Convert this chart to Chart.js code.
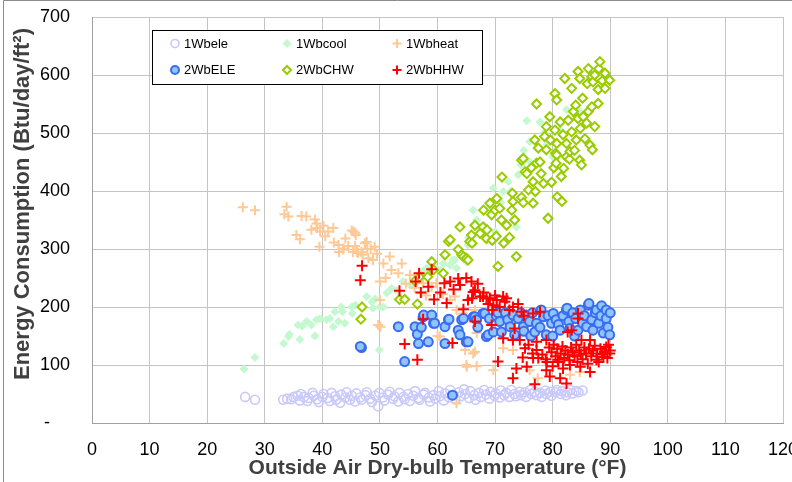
<!DOCTYPE html>
<html>
<head>
<meta charset="utf-8">
<script src="https://cdn.jsdelivr.net/npm/chart.js@4.4.1/dist/chart.umd.min.js"></script>
<style>
  html, body { margin: 0; padding: 0; background: #ffffff; }
  #wrap { width: 792px; height: 482px; position: relative; }
</style>
</head>
<body>
<div id="wrap"><canvas id="c" width="792" height="482"></canvas></div>
<script>
// Axis ticks
const xTicks = [0, 10, 20, 30, 40, 50, 60, 70, 80, 90, 100, 110, 120];
const yTicks = [0, 100, 200, 300, 400, 500, 600, 700];

// Series names
const seriesNames = ['1Wbele', '1Wbcool', '1Wbheat', '2WbELE', '2WbCHW', '2WbHHW'];

// [outside air dry-bulb °F, energy Btu/day/ft²]
const wb1Ele = [
  [26.6,45],[28.3,40],[33.2,40],[33.9,42],[34.6,41],[35.0,45],[35.7,47],[36.1,39],[36.3,50],[36.8,45],
  [37.4,38],[37.6,43],[38.3,52],[38.5,47],[39.1,41],[39.4,36],[40.0,45],[40.2,50],[40.9,43],[41.3,38],
  [41.6,52],[42.2,46],[42.4,40],[43.1,35],[43.3,49],[44.0,44],[44.2,53],[44.8,40],[45.1,47],[45.7,37],
  [45.9,51],[46.6,44],[46.8,40],[47.5,48],[47.7,53],[48.3,42],[48.6,36],[49.2,47],[49.7,29],[49.9,52],
  [50.5,44],[50.8,39],[51.4,49],[51.7,54],[52.3,42],[52.5,46],[53.2,37],[53.4,52],[54.1,45],[54.3,41],
  [54.9,50],[55.2,38],[55.8,47],[56.1,55],[56.7,43],[56.9,40],[57.6,49],[57.8,52],[58.5,44],[58.7,37],
  [59.3,48],[59.6,42],[60.2,55],[60.4,46],[61.1,39],[61.3,51],[62.0,44],[62.2,57],[62.8,48],[63.1,41],
  [63.7,53],[64.0,46],[64.6,58],[64.8,50],[65.5,43],[65.7,55],[66.4,48],[66.6,40],[67.2,52],[67.5,45],
  [68.1,57],[68.4,49],[69.0,42],[69.2,54],[69.9,47],[70.1,51],[70.8,44],[71.0,56],[71.6,48],[71.9,52],
  [72.5,45],[72.8,57],[73.4,50],[73.6,46],[74.3,54],[74.5,48],[75.2,53],[75.4,45],[76.1,57],[76.3,50],
  [76.9,54],[77.2,48],[77.8,52],[78.1,45],[78.7,56],[78.9,50],[79.6,54],[79.8,47],[80.5,53],[80.7,57],
  [81.4,50],[81.6,55],[82.3,48],[82.5,53],[83.1,57],[83.4,51],[84.1,55],[84.5,53],[85.2,56]
];

const wb1Cool = [
  [26.4,93],[28.3,113],[33.3,137],[34.1,149],[34.3,153],[35.8,169],[36.1,144],[36.5,167],[37.3,175],[38.1,169],
  [38.7,150],[39.0,178],[39.6,180],[40.7,178],[41.3,180],[41.9,166],[42.2,192],[42.8,175],[43.3,200],[43.5,192],
  [43.9,172],[45.1,200],[45.2,189],[45.7,203],[47.7,218],[48.6,209],[48.8,198],[49.2,214],[49.9,126],[50.0,200],
  [50.6,200],[51.2,224],[52.0,232],[52.9,229],[54.0,244],[55.2,238],[56.4,247],[56.9,255],[57.5,262],[58.1,267],
  [58.7,259],[59.5,270],[60.4,264],[61.0,275],[62.2,272],[62.7,281],[63.0,281],[63.3,267],[64.2,287],[65.0,278],
  [65.3,307],[65.4,320],[66.2,367],[66.8,350],[67.4,333],[68.2,340],[69.0,372],[69.7,405],[70.0,330],[71.0,380],
  [71.4,399],[72.3,416],[72.8,400],[73.7,338],[74.0,428],[74.5,445],[75.0,470],[75.5,521],[76.0,485],[76.1,450],
  [77.8,519],[78.5,500],[79.0,480],[80.0,459],[80.7,457],[81.3,505],[81.8,439],[82.4,540],[84.7,537]
];

const wb1Heat = [
  [26.2,372],[28.3,367],[33.4,360],[33.8,373],[34.1,356],[35.5,324],[36.1,317],[36.4,357],[37.2,356],[38.1,333],
  [38.7,351],[39.0,344],[39.1,336],[39.5,304],[39.6,330],[40.2,340],[40.5,322],[41.0,330],[41.9,336],[42.0,311],
  [42.8,307],[42.9,295],[43.6,299],[43.7,301],[44.0,318],[44.5,305],[45.1,332],[45.3,295],[45.4,330],[45.7,328],
  [45.8,324],[45.7,305],[46.0,295],[46.2,293],[46.8,295],[47.0,290],[47.4,310],[47.7,312],[47.8,300],[48.0,284],
  [48.4,300],[48.8,281],[49.1,304],[49.5,292],[49.7,169],[50.0,244],[50.0,212],[50.1,166],[50.6,275],[51.0,250],
  [51.7,287],[52.0,264],[53.2,258],[53.8,275],[54.5,240],[55.2,255],[56.0,233],[57.2,224],[57.5,241],[58.0,220],
  [59.0,235],[59.8,241],[60.0,150],[60.4,149],[61.0,222],[62.2,212],[63.0,218],[63.3,195],[63.3,34],[64.4,189],
  [64.8,126],[65.0,100],[65.1,97],[66.2,120],[66.5,123],[66.5,195],[66.8,98],[66.8,155],[69.7,91],[71.4,129],
  [73.1,126],[76.0,91],[77.4,77],[83.0,83],[84.7,88]
];

const wb2Ele = [
  [46.8,130],[46.6,132],[53.2,166],[54.3,106],[56.1,166],[56.5,153],[56.7,137],[57.2,165],[57.5,183],[57.6,186],
  [59.0,186],[59.3,172],[59.5,172],[58.4,140],[61.3,166],[61.3,137],[61.9,178],[62.0,179],[62.6,48],[63.6,160],
  [63.9,152],[64.2,178],[64.5,180],[65.0,140],[65.3,140],[66.2,183],[66.5,183],[66.8,178],[67.0,165],[67.9,189],
  [68.2,189],[68.5,149],[68.8,152],[69.0,180],[69.7,157],[70.2,185],[70.5,190],[70.8,175],[71.1,157],[71.8,190],
  [72.2,178],[72.6,166],[73.1,186],[73.4,152],[74.0,180],[74.5,190],[74.9,166],[75.0,158],[75.5,186],[76.0,175],
  [76.2,150],[76.5,190],[76.9,157],[77.2,172],[77.8,165],[78.0,195],[78.4,183],[78.9,152],[79.2,185],[79.8,172],
  [80.0,150],[80.1,189],[80.6,178],[81.0,170],[81.3,160],[81.8,185],[82.4,195],[82.5,198],[82.8,175],[83.0,163],
  [83.5,190],[83.8,150],[84.0,180],[84.4,160],[84.8,195],[85.2,172],[85.5,185],[85.9,166],[86.2,203],[86.3,206],
  [86.8,178],[87.0,160],[87.4,190],[87.6,195],[88.0,172],[88.4,185],[88.5,202],[88.8,155],[89.3,195],[89.3,180],
  [89.6,165],[89.9,152],[90.0,190]
];

const wb2Chw = [
  [46.9,200],[46.7,179],[53.4,213],[54.3,213],[56.5,205],[56.1,245],[56.9,252],[58.3,252],[59.0,278],[59.3,264],
  [61.0,258],[61.3,290],[61.9,313],[62.2,316],[63.6,299],[63.9,338],[64.2,290],[64.5,287],[65.0,284],[65.3,281],
  [65.6,313],[65.9,324],[66.0,310],[66.5,341],[67.4,327],[67.9,338],[68.0,367],[68.5,318],[68.6,333],[69.1,379],
  [69.4,359],[69.5,315],[70.0,367],[70.2,322],[70.3,387],[70.5,270],[70.8,370],[71.1,350],[71.2,424],[71.5,310],
  [72.0,341],[72.5,320],[72.9,367],[73.0,396],[73.1,382],[73.4,350],[73.7,287],[74.6,389],[74.6,453],[74.9,380],
  [74.9,456],[75.2,433],[75.5,430],[75.8,402],[76.3,440],[76.6,416],[76.6,379],[76.9,488],[77.0,399],[77.2,550],
  [77.2,448],[77.5,474],[77.8,450],[78.0,430],[78.4,413],[78.6,494],[78.9,511],[78.9,471],[79.2,353],[79.5,528],
  [79.6,488],[79.8,415],[80.2,440],[80.4,505],[80.4,568],[80.5,465],[80.7,557],[80.7,462],[80.8,390],[80.7,482],
  [80.6,448],[81.3,519],[81.5,425],[81.6,382],[81.8,497],[81.9,439],[82.1,594],[82.4,482],[82.4,459],[82.7,522],
  [82.9,455],[83.0,468],[83.3,577],[83.3,502],[83.6,537],[83.8,470],[84.0,548],[84.1,488],[84.4,606],[84.4,525],
  [84.7,594],[84.8,508],[84.7,453],[85.0,445],[85.2,560],[85.3,528],[85.6,490],[85.9,517],[86.0,585],[86.2,611],
  [86.2,537],[86.5,479],[86.8,597],[86.8,545],[86.9,471],[87.0,588],[87.3,600],[87.3,511],[87.9,575],[87.9,551],
  [88.0,611],[88.2,623],[88.6,590],[89.1,603],[89.1,577],[89.9,591]
];

const wb2Hhw = [
  [46.9,271],[46.6,246],[53.4,228],[54.3,136],[56.2,244],[56.5,109],[56.8,258],[57.1,225],[57.5,179],[58.4,235],
  [59.0,265],[59.4,213],[60.5,225],[61.2,241],[61.6,207],[62.2,244],[62.6,138],[62.8,230],[63.6,249],[63.9,238],
  [64.5,196],[65.0,250],[65.3,212],[65.9,244],[66.0,215],[66.2,226],[66.5,229],[66.5,175],[67.0,240],[67.4,218],
  [67.9,218],[68.0,225],[68.5,215],[68.8,205],[69.1,215],[69.4,169],[69.5,195],[69.7,203],[70.0,220],[70.3,212],
  [70.5,106],[70.8,200],[71.4,218],[71.4,146],[71.7,209],[72.0,215],[72.5,195],[73.1,200],[73.1,143],[73.1,77],
  [73.4,163],[73.7,94],[74.0,205],[74.3,143],[74.6,192],[74.8,113],[75.0,185],[75.2,129],[75.5,97],[75.8,135],
  [76.5,120],[76.6,189],[76.6,112],[76.9,67],[77.2,140],[77.2,126],[77.5,112],[77.8,192],[78.2,118],[78.8,110],
  [78.9,143],[78.9,91],[79.0,105],[79.4,130],[79.5,80],[79.8,122],[80.0,98],[80.2,135],[80.5,115],[80.8,128],
  [80.9,109],[81.0,105],[81.3,77],[81.4,120],[81.7,132],[81.8,94],[82.0,112],[82.2,125],[82.4,68],[82.6,157],
  [82.6,118],[82.9,108],[83.0,100],[83.2,130],[83.3,160],[83.5,122],[83.8,115],[84.1,135],[84.3,105],[84.4,189],
  [84.4,180],[84.6,125],[84.8,97],[84.9,118],[85.0,143],[85.2,110],[85.5,130],[85.8,120],[86.1,102],[86.3,128],
  [86.5,143],[86.5,88],[86.7,115],[87.0,125],[87.3,133],[87.6,109],[87.7,120],[88.0,105],[88.3,128],[88.6,118],
  [88.8,114],[89.0,123],[89.3,131],[89.5,112],[89.7,135],[89.9,120],[90.0,125]
];

const FONT = '"Liberation Sans", Arial, Helvetica, sans-serif';

function toPoints(arr) { return arr.map(p => ({ x: p[0], y: p[1] })); }

const datasets = [
  { label: seriesNames[0], data: toPoints(wb1Ele), order: 6, pointStyle: 'circle', pointRadius: 4.5,
    backgroundColor: 'rgba(255,255,255,0)', borderColor: '#c9c9fb', borderWidth: 1.6 },
  { label: seriesNames[1], data: toPoints(wb1Cool), order: 5, pointStyle: 'rectRot', pointRadius: 4,
    backgroundColor: '#c4f9cf', borderColor: '#c4f9cf', borderWidth: 1 },
  { label: seriesNames[2], data: toPoints(wb1Heat), order: 4, pointStyle: 'cross', pointRadius: 5,
    backgroundColor: '#ffcc99', borderColor: '#ffc997', borderWidth: 2 },
  { label: seriesNames[3], data: toPoints(wb2Ele), order: 3, pointStyle: 'circle', pointRadius: 4.5,
    backgroundColor: '#8ec4ff', borderColor: '#3a6cf0', borderWidth: 2 },
  { label: seriesNames[4], data: toPoints(wb2Chw), order: 2, pointStyle: 'rectRot', pointRadius: 4.5,
    backgroundColor: '#ffffff', borderColor: '#99cc00', borderWidth: 2 },
  { label: seriesNames[5], data: toPoints(wb2Hhw), order: 1, pointStyle: 'cross', pointRadius: 5.5,
    backgroundColor: '#ff0000', borderColor: '#ff0000', borderWidth: 2 }
];

// Axis titles, legend box and outer frame
const decorations = {
  id: 'decorations',
  afterDraw(chart) {
    const ctx = chart.ctx;
    const area = chart.chartArea;
    ctx.save();

    // outer frame (left and top)
    ctx.strokeStyle = '#8c8c8c';
    ctx.lineWidth = 1;
    ctx.beginPath();
    ctx.moveTo(3.5, 482); ctx.lineTo(3.5, 0.5); ctx.lineTo(792, 0.5);
    ctx.stroke();

    // axis titles
    ctx.fillStyle = '#404040';
    ctx.textAlign = 'center';
    ctx.textBaseline = 'middle';
    ctx.font = 'bold 21px ' + FONT;
    ctx.fillText('Outside Air Dry-bulb Temperature (°F)', (area.left + area.right) / 2, 468);
    ctx.save();
    ctx.translate(23, 204);
    ctx.rotate(-Math.PI / 2);
    ctx.font = 'bold 22px ' + FONT;
    ctx.fillText('Energy Consumption (Btu/day/ft²)', 0, 0);
    ctx.restore();

    // legend
    const lx = 152, ly = 30, lw = 330, lh = 54;
    ctx.fillStyle = '#ffffff';
    ctx.fillRect(lx, ly, lw, lh);
    ctx.strokeStyle = '#000000';
    ctx.lineWidth = 1;
    ctx.strokeRect(lx + 0.5, ly + 0.5, lw, lh);
    const cols = [175, 287, 397];
    const rows = [43.5, 70];
    ctx.font = '13px ' + FONT;
    ctx.textAlign = 'left';
    ctx.textBaseline = 'middle';
    chart.data.datasets.forEach((ds, i) => {
      const cx = cols[i % 3];
      const cy = rows[Math.floor(i / 3)];
      ctx.fillStyle = ds.backgroundColor;
      ctx.strokeStyle = ds.borderColor;
      ctx.lineWidth = ds.borderWidth;
      Chart.helpers.drawPoint(ctx, {
        pointStyle: ds.pointStyle, radius: ds.pointStyle === 'cross' ? 4.5 : 4,
        rotation: 0, borderWidth: ds.borderWidth
      }, cx, cy);
      ctx.fillStyle = '#000000';
      ctx.fillText(ds.label, cx + 9, cy + 0.5);
    });
    ctx.restore();
  }
};

new Chart(document.getElementById('c'), {
  type: 'scatter',
  data: { datasets },
  plugins: [decorations],
  options: {
    responsive: false,
    animation: false,
    devicePixelRatio: 1,
    layout: { padding: { left: 0, right: 9, top: 17, bottom: 0 } },
    plugins: { legend: { display: false }, tooltip: { enabled: false } },
    scales: {
      x: {
        type: 'linear', min: xTicks[0], max: xTicks[xTicks.length - 1],
        afterBuildTicks(scale) { scale.ticks = xTicks.map(v => ({ value: v })); },
        afterFit(scale) { scale.height = 59; scale.paddingLeft = 0; scale.paddingRight = 0; },
        ticks: { color: '#000000', font: { family: FONT, size: 18 }, padding: 16,
                 maxRotation: 0, autoSkip: false },
        grid: { color: '#c4c4c4', lineWidth: 1, drawTicks: false },
        border: { display: true, color: '#a0a0a0', width: 1 }
      },
      y: {
        type: 'linear', min: yTicks[0], max: yTicks[yTicks.length - 1],
        afterBuildTicks(scale) { scale.ticks = yTicks.map(v => ({ value: v })); },
        afterFit(scale) { scale.width = 92; scale.paddingTop = 0; scale.paddingBottom = 0; },
        ticks: { color: '#000000', font: { family: FONT, size: 18 }, padding: 22,
                 callback: v => (v === 0 ? '-    ' : String(v)) },
        grid: { color: '#c4c4c4', lineWidth: 1, drawTicks: false },
        border: { display: true, color: '#a0a0a0', width: 1 }
      }
    }
  }
});
</script>
</body>
</html>
